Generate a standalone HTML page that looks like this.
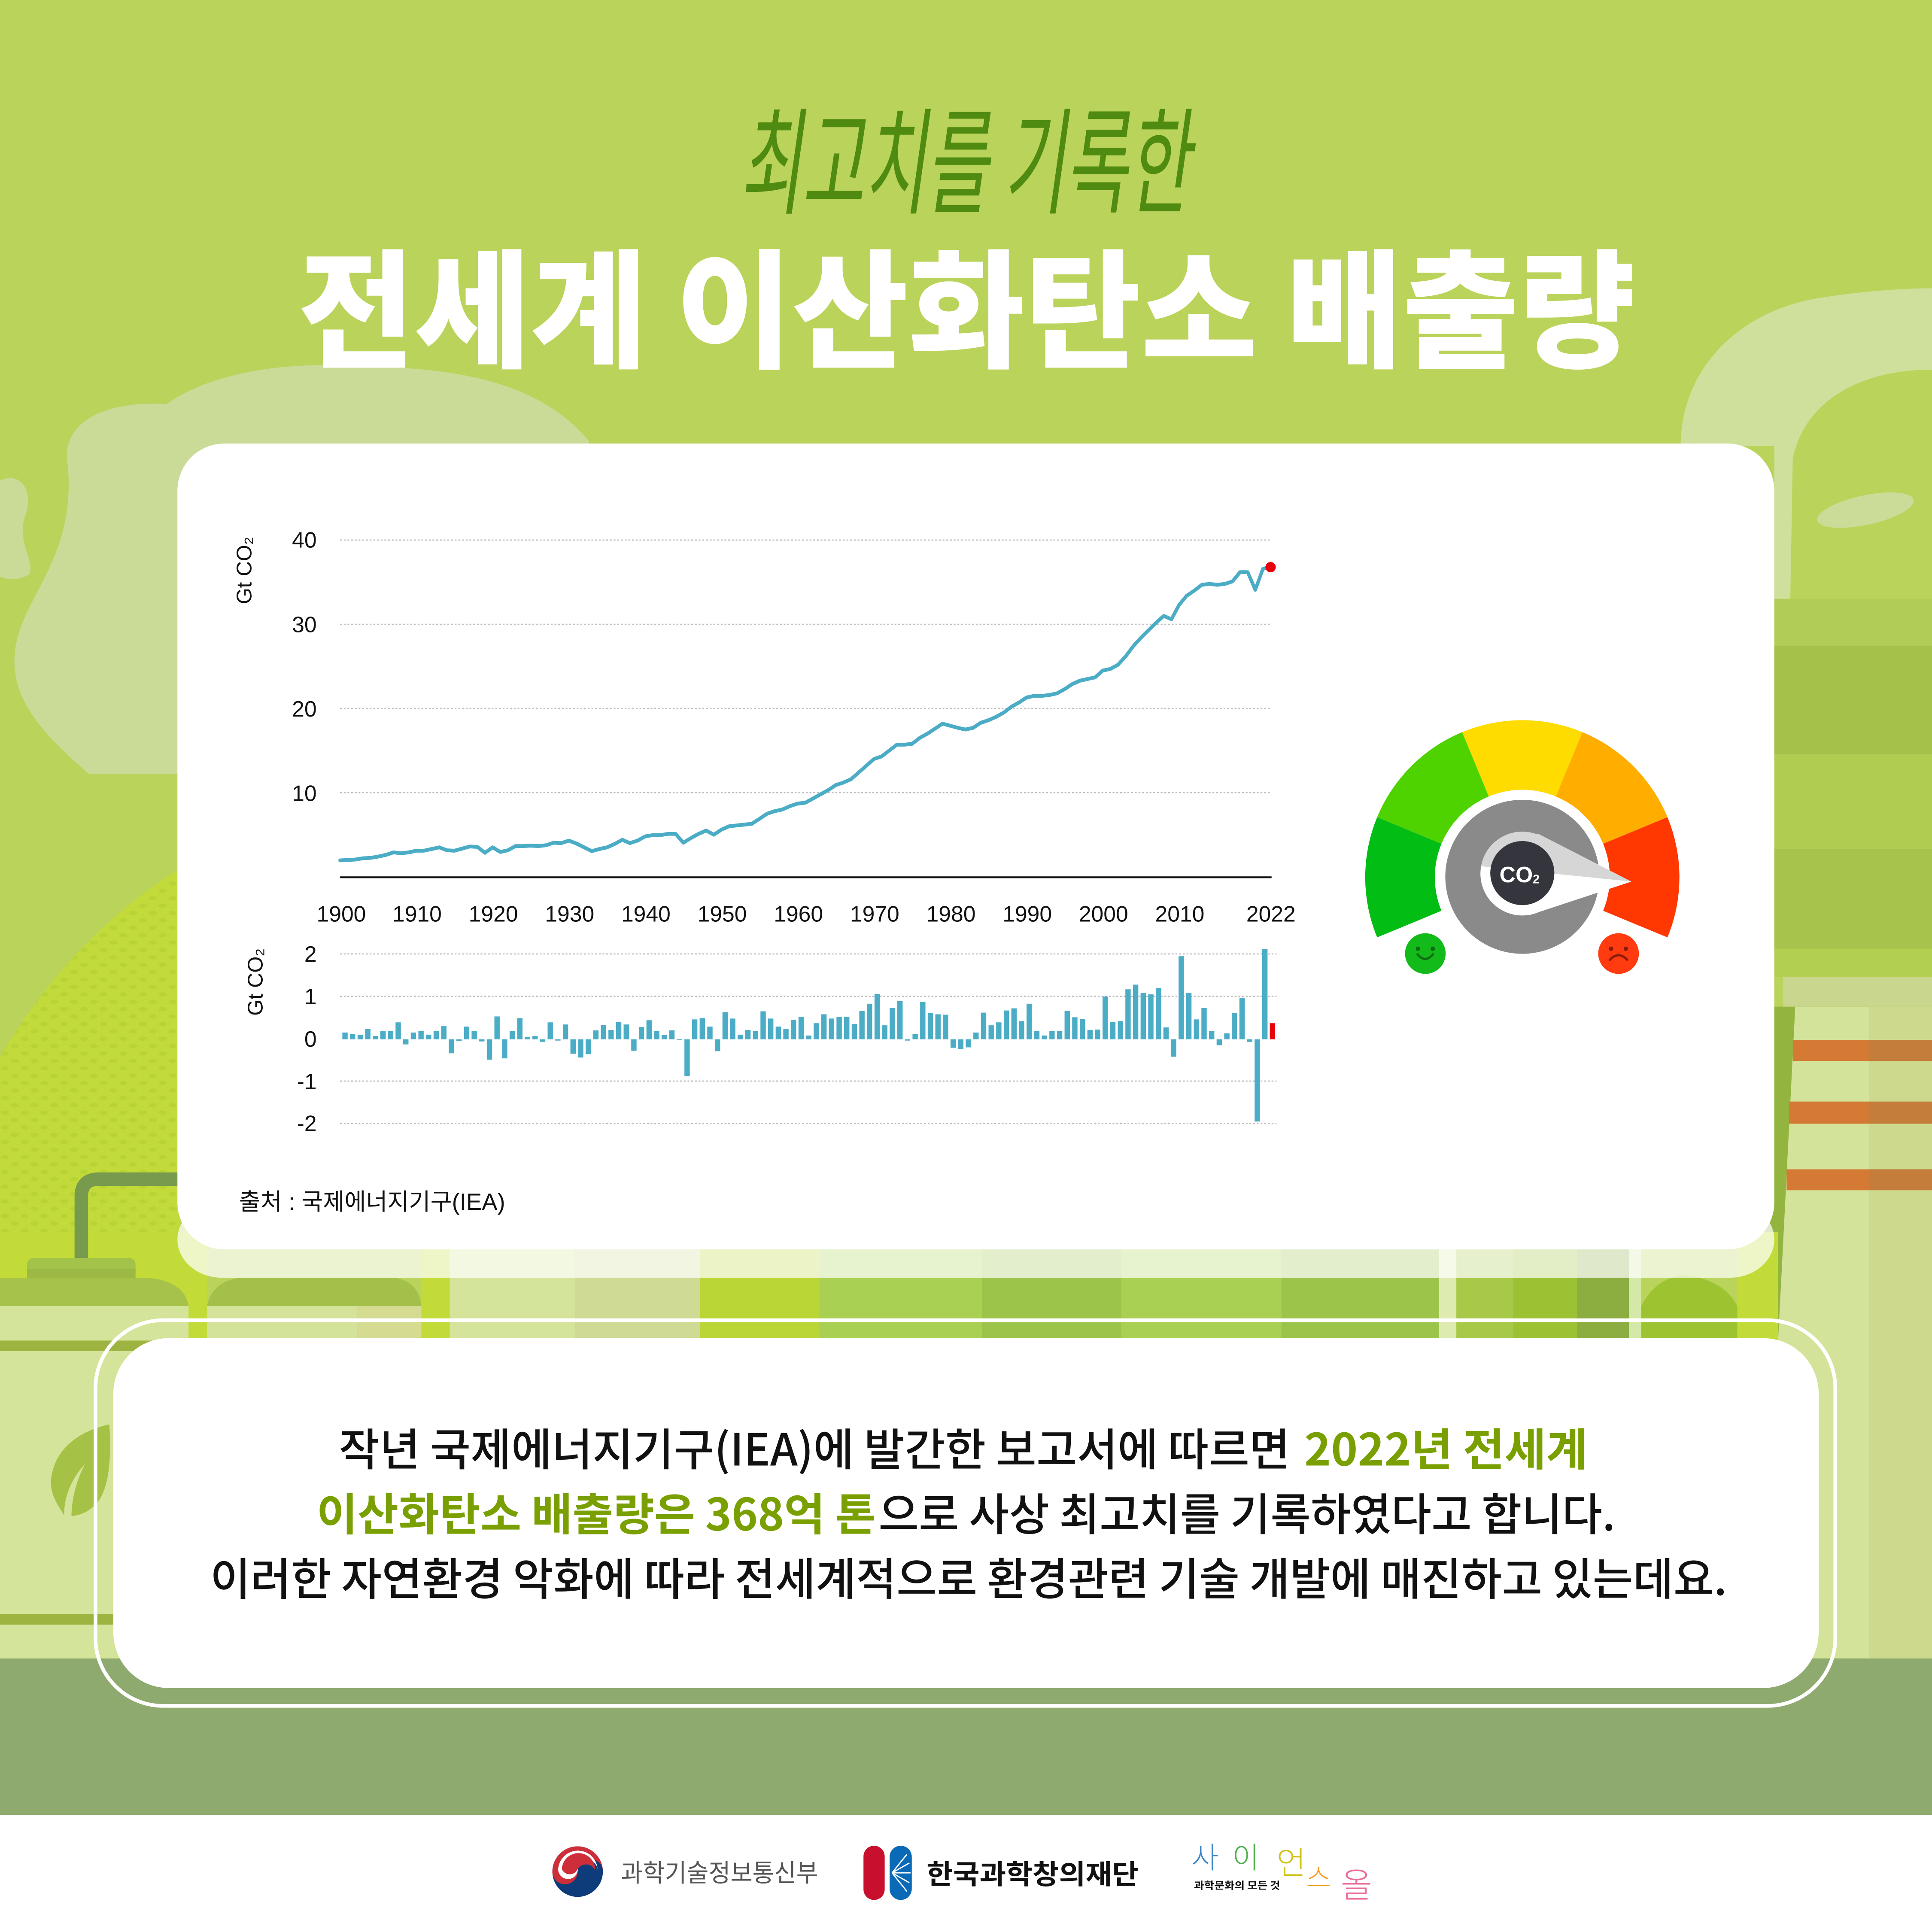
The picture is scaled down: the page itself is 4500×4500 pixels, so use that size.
<!DOCTYPE html>
<html><head><meta charset="utf-8"><style>html,body{margin:0;padding:0;background:#fff}svg{display:block}</style></head>
<body>
<svg xmlns="http://www.w3.org/2000/svg" width="4500" height="4500" viewBox="0 0 1568 1568" font-family="'Liberation Sans','Noto Sans CJK KR',sans-serif">
<defs>
<pattern id="dots" width="16" height="12" patternUnits="userSpaceOnUse"><ellipse cx="4" cy="3" rx="3.2" ry="1.7" fill="#B7D336"/><ellipse cx="12" cy="9" rx="3.2" ry="1.7" fill="#B7D336"/></pattern>
<clipPath id="needleTop"><polygon points="1190,600 1340,600 1340,717.1 1190,701.8"/></clipPath>
</defs>
<rect width="1568" height="1568" fill="#BAD35B"/>
<path d="M55,378 C48,340 90,325 135,328 C175,300 240,292 310,298 C390,300 445,318 478,358 L478,628 L72,628 C40,600 8,570 12,530 C16,485 62,455 55,378 Z" fill="#C9DB97"/>
<path d="M0,390 C18,382 28,400 20,420 C14,440 28,455 24,466 C14,472 5,470 0,468 Z" fill="#C9DB97"/>
<path d="M0,858 C40,790 90,740 146,705 L146,1040 L0,1040 Z" fill="#C2DB3A"/>
<path d="M0,858 C40,790 90,740 146,705 L146,1040 L0,1040 Z" fill="url(#dots)"/>
<path d="M1364,362 C1364,300 1410,255 1470,243 C1510,236 1545,234 1568,234 L1568,300 C1510,300 1465,325 1455,372 L1453,486 L1440,486 L1440,362 Z" fill="#CEE09B"/>
<ellipse cx="1514" cy="414" rx="40" ry="12" transform="rotate(-12 1514 414)" fill="#CADC98"/>
<rect x="1440" y="486" width="128" height="38" fill="#B0CD58"/>
<rect x="1440" y="524" width="128" height="88" fill="#A4C14A"/>
<rect x="1440" y="612" width="128" height="77" fill="#B0CD52"/>
<rect x="1440" y="689" width="128" height="81" fill="#A6C44C"/>
<rect x="1440" y="770" width="128" height="23" fill="#B2CF50"/>
<rect x="1447" y="793" width="121" height="24" fill="#C8D68E"/>
<rect x="1430" y="817" width="138" height="530" fill="#93B540"/>
<g>
<rect x="0" y="1000" width="168" height="90" fill="#C2DB38"/>
<rect x="342" y="1000" width="23" height="90" fill="#C2DB38"/>
<rect x="365" y="1000" width="102" height="90" fill="#D4E49A"/>
<rect x="467" y="1000" width="101" height="90" fill="#CFDB94"/>
<rect x="568" y="1000" width="97" height="90" fill="#BAD636"/>
<rect x="665" y="1000" width="132" height="90" fill="#A9D052"/>
<rect x="797" y="1000" width="113" height="90" fill="#9CC44A"/>
<rect x="910" y="1000" width="130" height="90" fill="#A9D052"/>
<rect x="1040" y="1000" width="128" height="90" fill="#9CC44A"/>
<rect x="1168" y="1000" width="14" height="90" fill="#DDEBB0"/>
<rect x="1182" y="1000" width="46" height="90" fill="#A8C848"/>
<rect x="1228" y="1000" width="52" height="90" fill="#9CC234"/>
<rect x="1280" y="1000" width="42" height="90" fill="#8CAD40"/>
<rect x="1322" y="1000" width="10" height="90" fill="#D4E8A8"/>
<path d="M1332,1090 L1332,1060 Q1345,1035 1370,1035 Q1400,1040 1410,1060 L1410,1090 Z" fill="#9DC430"/>
<rect x="1410" y="1000" width="33" height="90" fill="#C2DB38"/>
</g>
<path d="M146,957 L80,957 Q66,957 66,971 L66,1022" fill="none" stroke="#789A4C" stroke-width="11"/>
<rect x="22" y="1021" width="88" height="17" rx="5" fill="#A3C24A"/>
<rect x="22" y="1030" width="88" height="8" fill="#9BB944"/>
<path d="M0,1037 L120,1037 Q150,1040 153,1060 L0,1060 Z" fill="#A6C24A"/>
<rect x="0" y="1060" width="153" height="286" fill="#D4E49A"/>
<rect x="0" y="1088" width="153" height="8.5" fill="#9DB440"/>
<rect x="0" y="1310" width="92" height="8.5" fill="#9DB440"/>
<path d="M168,1060 Q172,1040 195,1037 L320,1037 Q340,1040 342,1060 Z" fill="#A3C04A"/>
<rect x="168" y="1060" width="122" height="30" fill="#D4E39A"/>
<rect x="290" y="1060" width="52" height="30" fill="#D5DB90"/>
<path d="M88.7,1156 C70,1160 45,1172 41.5,1200 C40,1215 50,1225 52,1230 C60,1232 75,1228 82,1215 C90,1200 90,1175 88.7,1156 Z" fill="#A6C246"/>
<path d="M52,1230 C52,1212 60,1198 69,1188 C63,1200 58,1214 58,1232 Z" fill="#D4E49A"/>
<polygon points="1457,817 1568,817 1568,1346 1443,1346 1443,1090" fill="#D4E39A"/>
<rect x="1517" y="817" width="51" height="529" fill="#CDDA8E"/>
<rect x="1455" y="844" width="62" height="17" fill="#D47A34"/><rect x="1517" y="844" width="51" height="17" fill="#C47D3A"/>
<rect x="1452" y="894" width="65" height="18" fill="#D47A34"/><rect x="1517" y="894" width="51" height="18" fill="#C47D3A"/>
<rect x="1450" y="949" width="67" height="17" fill="#D47A34"/><rect x="1517" y="949" width="51" height="17" fill="#C47D3A"/>
<rect x="0" y="1346" width="1568" height="127" fill="#8EAA6E"/>
<rect x="144" y="975" width="1296" height="62" rx="36" fill="#fff" opacity="0.72"/>
<rect x="144" y="360" width="1296" height="654" rx="38" fill="#fff"/>
<rect x="77.5" y="1071.5" width="1412" height="313" rx="55" fill="none" stroke="#fff" stroke-width="3"/>
<rect x="92" y="1086" width="1384" height="284" rx="45" fill="#fff"/>
<rect x="0" y="1473" width="1568" height="95" fill="#fff"/>

<g transform="translate(783,166) skewX(-8)">
<text x="0" y="0" text-anchor="middle" font-size="94" font-weight="400" fill="#4F8B10" textLength="365" lengthAdjust="spacingAndGlyphs" font-family="'Noto Sans CJK KR',sans-serif">최고치를 기록한</text>
</g>
<text x="242" y="290" font-size="104" font-weight="900" fill="#fff" textLength="1085" lengthAdjust="spacingAndGlyphs" font-family="'Noto Sans CJK KR',sans-serif">전세계 이산화탄소 배출량</text>

<g stroke="#BDBDBD" stroke-width="1" stroke-dasharray="1.5 1.5">
<line x1="276" y1="438.3" x2="1031" y2="438.3"/>
<line x1="276" y1="506.7" x2="1031" y2="506.7"/>
<line x1="276" y1="575" x2="1031" y2="575"/>
<line x1="276" y1="643.3" x2="1031" y2="643.3"/>
<line x1="276" y1="774.2" x2="1036" y2="774.2"/>
<line x1="276" y1="808.6" x2="1036" y2="808.6"/>
<line x1="276" y1="877.4" x2="1036" y2="877.4"/>
<line x1="276" y1="911.8" x2="1036" y2="911.8"/>
</g>
<line x1="276" y1="712" x2="1032" y2="712" stroke="#111" stroke-width="1.5"/>
<g font-size="18" fill="#111" text-anchor="end">
<text x="257" y="444.5">40</text><text x="257" y="513">30</text><text x="257" y="581.5">20</text><text x="257" y="650">10</text>
<text x="257" y="780.5">2</text><text x="257" y="815">1</text><text x="257" y="849.5">0</text><text x="257" y="884">-1</text><text x="257" y="918">-2</text>
</g>
<g font-size="18" fill="#111" text-anchor="middle">
<text x="277" y="748">1900</text><text x="338.5" y="748">1910</text><text x="400.4" y="748">1920</text><text x="462.3" y="748">1930</text><text x="524.2" y="748">1940</text><text x="586.1" y="748">1950</text><text x="648" y="748">1960</text><text x="709.9" y="748">1970</text><text x="771.8" y="748">1980</text><text x="833.7" y="748">1990</text><text x="895.6" y="748">2000</text><text x="957.5" y="748">2010</text><text x="1031.5" y="748">2022</text>
</g>
<text transform="translate(204,463) rotate(-90)" text-anchor="middle" font-size="17" fill="#111">Gt CO₂</text>
<text transform="translate(213,797) rotate(-90)" text-anchor="middle" font-size="17" fill="#111">Gt CO₂</text>

<polyline transform="translate(276,711.6) scale(6.19,-6.83)" fill="none" stroke="#4BACC6" stroke-width="0.45" stroke-linejoin="round" stroke-linecap="round" points="0,1.95 1,2.0 2,2.05 3,2.2 4,2.25 5,2.4 6,2.6 7,2.9 8,2.8 9,2.9 10,3.1 11,3.1 12,3.3 13,3.5 14,3.15 15,3.1 16,3.35 17,3.6 18,3.55 19,2.85 20,3.5 21,2.95 22,3.15 23,3.65 24,3.65 25,3.7 26,3.65 27,3.75 28,4.05 29,4.0 30,4.3 31,3.95 32,3.5 33,3.05 34,3.3 35,3.5 36,3.9 37,4.4 38,4.0 39,4.3 40,4.8 41,4.95 42,4.95 43,5.1 44,5.1 45,4.05 46,4.6 47,5.1 48,5.5 49,5.0 50,5.6 51,6.0 52,6.1 53,6.2 54,6.3 55,6.9 56,7.5 57,7.8 58,8.0 59,8.4 60,8.7 61,8.8 62,9.3 63,9.8 64,10.3 65,10.9 66,11.2 67,11.6 68,12.4 69,13.2 70,14.0 71,14.3 72,15.0 73,15.7 74,15.7 75,15.8 76,16.5 77,17.0 78,17.6 79,18.2 80,17.95 81,17.7 82,17.5 83,17.7 84,18.3 85,18.6 86,19.0 87,19.5 88,20.2 89,20.7 90,21.3 91,21.5 92,21.5 93,21.6 94,21.8 95,22.3 96,22.9 97,23.3 98,23.5 99,23.7 100,24.5 101,24.7 102,25.2 103,26.2 104,27.4 105,28.4 106,29.3 107,30.2 108,31.0 109,30.6 110,32.3 111,33.4 112,34.0 113,34.7 114,34.8 115,34.7 116,34.8 117,35.1 118,36.2 119,36.2 120,34.1 121,36.6 122,36.8"/>
<circle cx="1031.2" cy="460.3" r="4.2" fill="#E8000B"/>

<g transform="translate(280,843.5) scale(6.17,-34.4)" fill="#4BACC6">
<rect x="-0.35" y="0" width="0.7" height="0.16"/><rect x="0.65" y="0" width="0.7" height="0.12"/><rect x="1.65" y="0" width="0.7" height="0.10"/><rect x="2.65" y="0" width="0.7" height="0.24"/><rect x="3.65" y="0" width="0.7" height="0.08"/><rect x="4.65" y="0" width="0.7" height="0.20"/><rect x="5.65" y="0" width="0.7" height="0.19"/><rect x="6.65" y="0" width="0.7" height="0.40"/><rect x="7.65" y="-0.12" width="0.7" height="0.12"/><rect x="8.65" y="0" width="0.7" height="0.16"/>
<rect x="9.65" y="0" width="0.7" height="0.19"/><rect x="10.65" y="0" width="0.7" height="0.11"/><rect x="11.65" y="0" width="0.7" height="0.20"/><rect x="12.65" y="0" width="0.7" height="0.31"/><rect x="13.65" y="-0.33" width="0.7" height="0.33"/><rect x="14.65" y="-0.04" width="0.7" height="0.04"/><rect x="15.65" y="0" width="0.7" height="0.30"/><rect x="16.65" y="0" width="0.7" height="0.20"/><rect x="17.65" y="-0.05" width="0.7" height="0.05"/><rect x="18.65" y="-0.48" width="0.7" height="0.48"/>
<rect x="19.65" y="0" width="0.7" height="0.54"/><rect x="20.65" y="-0.45" width="0.7" height="0.45"/><rect x="21.65" y="0" width="0.7" height="0.20"/><rect x="22.65" y="0" width="0.7" height="0.50"/><rect x="23.65" y="0" width="0.7" height="0.06"/><rect x="24.65" y="0" width="0.7" height="0.08"/><rect x="25.65" y="-0.06" width="0.7" height="0.06"/><rect x="26.65" y="0" width="0.7" height="0.40"/><rect x="27.65" y="-0.03" width="0.7" height="0.03"/><rect x="28.65" y="0" width="0.7" height="0.35"/>
<rect x="29.65" y="-0.34" width="0.7" height="0.34"/><rect x="30.65" y="-0.43" width="0.7" height="0.43"/><rect x="31.65" y="-0.35" width="0.7" height="0.35"/><rect x="32.65" y="0" width="0.7" height="0.21"/><rect x="33.65" y="0" width="0.7" height="0.34"/><rect x="34.65" y="0" width="0.7" height="0.22"/><rect x="35.65" y="0" width="0.7" height="0.41"/><rect x="36.65" y="0" width="0.7" height="0.35"/><rect x="37.65" y="-0.27" width="0.7" height="0.27"/><rect x="38.65" y="0" width="0.7" height="0.29"/>
<rect x="39.65" y="0" width="0.7" height="0.45"/><rect x="40.65" y="0" width="0.7" height="0.19"/><rect x="41.65" y="0" width="0.7" height="0.10"/><rect x="42.65" y="0" width="0.7" height="0.21"/><rect x="43.65" y="-0.02" width="0.7" height="0.02"/><rect x="44.65" y="-0.87" width="0.7" height="0.87"/><rect x="45.65" y="0" width="0.7" height="0.47"/><rect x="46.65" y="0" width="0.7" height="0.50"/><rect x="47.65" y="0" width="0.7" height="0.30"/><rect x="48.65" y="-0.28" width="0.7" height="0.28"/>
<rect x="49.65" y="0" width="0.7" height="0.64"/><rect x="50.65" y="0" width="0.7" height="0.49"/><rect x="51.65" y="0" width="0.7" height="0.11"/><rect x="52.65" y="0" width="0.7" height="0.22"/><rect x="53.65" y="0" width="0.7" height="0.19"/><rect x="54.65" y="0" width="0.7" height="0.66"/><rect x="55.65" y="0" width="0.7" height="0.49"/><rect x="56.65" y="0" width="0.7" height="0.30"/><rect x="57.65" y="0" width="0.7" height="0.25"/><rect x="58.65" y="0" width="0.7" height="0.46"/>
<rect x="59.65" y="0" width="0.7" height="0.53"/><rect x="60.65" y="0" width="0.7" height="0.09"/><rect x="61.65" y="0" width="0.7" height="0.38"/><rect x="62.65" y="0" width="0.7" height="0.59"/><rect x="63.65" y="0" width="0.7" height="0.49"/><rect x="64.65" y="0" width="0.7" height="0.53"/><rect x="65.65" y="0" width="0.7" height="0.53"/><rect x="66.65" y="0" width="0.7" height="0.36"/><rect x="67.65" y="0" width="0.7" height="0.67"/><rect x="68.65" y="0" width="0.7" height="0.84"/>
<rect x="69.65" y="0" width="0.7" height="1.07"/><rect x="70.65" y="0" width="0.7" height="0.33"/><rect x="71.65" y="0" width="0.7" height="0.74"/><rect x="72.65" y="0" width="0.7" height="0.90"/><rect x="73.65" y="-0.03" width="0.7" height="0.03"/><rect x="74.65" y="0" width="0.7" height="0.12"/><rect x="75.65" y="0" width="0.7" height="0.88"/><rect x="76.65" y="0" width="0.7" height="0.62"/><rect x="77.65" y="0" width="0.7" height="0.59"/><rect x="78.65" y="0" width="0.7" height="0.58"/>
<rect x="79.65" y="-0.20" width="0.7" height="0.20"/><rect x="80.65" y="-0.23" width="0.7" height="0.23"/><rect x="81.65" y="-0.19" width="0.7" height="0.19"/><rect x="82.65" y="0" width="0.7" height="0.16"/><rect x="83.65" y="0" width="0.7" height="0.63"/><rect x="84.65" y="0" width="0.7" height="0.33"/><rect x="85.65" y="0" width="0.7" height="0.40"/><rect x="86.65" y="0" width="0.7" height="0.68"/><rect x="87.65" y="0" width="0.7" height="0.73"/><rect x="88.65" y="0" width="0.7" height="0.43"/>
<rect x="89.65" y="0" width="0.7" height="0.84"/><rect x="90.65" y="0" width="0.7" height="0.19"/><rect x="91.65" y="0" width="0.7" height="0.09"/><rect x="92.65" y="0" width="0.7" height="0.19"/><rect x="93.65" y="0" width="0.7" height="0.19"/><rect x="94.65" y="0" width="0.7" height="0.67"/><rect x="95.65" y="0" width="0.7" height="0.52"/><rect x="96.65" y="0" width="0.7" height="0.48"/><rect x="97.65" y="0" width="0.7" height="0.22"/><rect x="98.65" y="0" width="0.7" height="0.23"/>
<rect x="99.65" y="0" width="0.7" height="1.01"/><rect x="100.65" y="0" width="0.7" height="0.41"/><rect x="101.65" y="0" width="0.7" height="0.43"/><rect x="102.65" y="0" width="0.7" height="1.18"/><rect x="103.65" y="0" width="0.7" height="1.29"/><rect x="104.65" y="0" width="0.7" height="1.09"/><rect x="105.65" y="0" width="0.7" height="1.06"/><rect x="106.65" y="0" width="0.7" height="1.21"/><rect x="107.65" y="0" width="0.7" height="0.28"/><rect x="108.65" y="-0.41" width="0.7" height="0.41"/>
<rect x="109.65" y="0" width="0.7" height="1.96"/><rect x="110.65" y="0" width="0.7" height="1.09"/><rect x="111.65" y="0" width="0.7" height="0.47"/><rect x="112.65" y="0" width="0.7" height="0.74"/><rect x="113.65" y="0" width="0.7" height="0.19"/><rect x="114.65" y="-0.14" width="0.7" height="0.14"/><rect x="115.65" y="0" width="0.7" height="0.14"/><rect x="116.65" y="0" width="0.7" height="0.62"/><rect x="117.65" y="0" width="0.7" height="0.98"/><rect x="118.65" y="-0.06" width="0.7" height="0.06"/>
<rect x="119.65" y="-1.94" width="0.7" height="1.94"/><rect x="120.65" y="0" width="0.7" height="2.13"/>
<rect x="121.65" y="0" width="0.7" height="0.38" fill="#E8000B"/>
</g>
<text x="194" y="982" font-size="19" fill="#111" textLength="216" lengthAdjust="spacingAndGlyphs">출처 : 국제에너지기구(IEA)</text>

<path d="M1117.7,760.8 A127.5,127.5 0 0 1 1117.7,663.2 L1169.9,684.8 A71,71 0 0 0 1169.9,739.2 Z" fill="#02BE14"/>
<path d="M1117.7,663.2 A127.5,127.5 0 0 1 1186.7,594.2 L1208.3,646.4 A71,71 0 0 0 1169.9,684.8 Z" fill="#4FD300"/>
<path d="M1186.7,594.2 A127.5,127.5 0 0 1 1284.3,594.2 L1262.7,646.4 A71,71 0 0 0 1208.3,646.4 Z" fill="#FFDC00"/>
<path d="M1284.3,594.2 A127.5,127.5 0 0 1 1353.3,663.2 L1301.1,684.8 A71,71 0 0 0 1262.7,646.4 Z" fill="#FFAE00"/>
<path d="M1353.3,663.2 A127.5,127.5 0 0 1 1353.3,760.8 L1301.1,739.2 A71,71 0 0 0 1301.1,684.8 Z" fill="#FF3700"/>
<circle cx="1235.5" cy="711.6" r="62.5" fill="#8A8A8A"/>
<g fill="#fff">
<circle cx="1235.5" cy="709" r="34"/>
<polygon points="1248,676.5 1324,715.5 1242,742.5 1225,720"/>
</g>
<g fill="#D6D6D6" clip-path="url(#needleTop)">
<circle cx="1235.5" cy="709" r="34"/>
<polygon points="1248,676.5 1324,715.5 1242,742.5 1225,720"/>
</g>
<circle cx="1235.5" cy="708.6" r="26" fill="#35353D"/>
<text x="1217" y="716" font-size="18" font-weight="700" fill="#fff">CO<tspan font-size="10" dy="1">2</tspan></text>
<circle cx="1156.8" cy="773.9" r="16.5" fill="#12BB1A"/>
<circle cx="1150.8" cy="770" r="1.8" fill="#0F6B14"/><circle cx="1162.8" cy="770" r="1.8" fill="#0F6B14"/>
<path d="M1150.5,774.5 Q1156.8,782 1163,774.5" fill="none" stroke="#0F6B14" stroke-width="1.8" stroke-linecap="round"/>
<circle cx="1313.6" cy="773.9" r="16.5" fill="#FF3B0F"/>
<circle cx="1307.6" cy="770" r="1.8" fill="#8B1A0A"/><circle cx="1319.5" cy="770" r="1.8" fill="#8B1A0A"/>
<path d="M1306.5,779 Q1313.6,771.5 1320.7,779" fill="none" stroke="#8B1A0A" stroke-width="1.8" stroke-linecap="round"/>

<g font-family="'Noto Sans CJK KR',sans-serif" font-size="36">
<text x="275" y="1189.5" font-weight="500" fill="#111" textLength="772" lengthAdjust="spacingAndGlyphs">작년 국제에너지기구(IEA)에 발간한 보고서에 따르면</text>
<text x="1058.6" y="1189.5" font-weight="700" fill="#79A000" textLength="230" lengthAdjust="spacingAndGlyphs">2022년 전세계</text>
<text x="257" y="1242" font-weight="700" fill="#79A000" textLength="454" lengthAdjust="spacingAndGlyphs">이산화탄소 배출량은 368억 톤</text>
<text x="713" y="1242" font-weight="500" fill="#111" textLength="598" lengthAdjust="spacingAndGlyphs">으로 사상 최고치를 기록하였다고 합니다.</text>
<text x="170.6" y="1294.5" font-weight="500" fill="#111" textLength="1231" lengthAdjust="spacingAndGlyphs">이러한 자연환경 악화에 따라 전세계적으로 환경관련 기술 개발에 매진하고 있는데요.</text>
</g>

<circle cx="468.8" cy="1519" r="20.5" fill="#0E3C7A"/>
<path d="M448.3,1519 A20.5,20.5 0 0 1 489.3,1519 A10.25,10.25 0 0 0 468.8,1519 A10.25,10.25 0 0 1 448.3,1519 Z" fill="#CD2E3A"/>
<path d="M453,1517 A16,16 0 0 1 485,1519 A8,8 0 0 0 469,1517 A8,8 0 0 1 453,1517 Z" fill="#fff"/>
<path d="M456,1517 A13,13 0 0 1 483,1518 A8,8 0 0 0 468.8,1517 A7,7 0 0 1 456,1517 Z" fill="#CD2E3A"/>
<text x="504" y="1527" font-size="20" fill="#555" textLength="160" lengthAdjust="spacingAndGlyphs" font-family="'Noto Sans CJK KR',sans-serif">과학기술정보통신부</text>
<rect x="700.8" y="1498" width="17.2" height="44" rx="8.6" fill="#C8102E"/>
<rect x="722" y="1498" width="18" height="44" rx="9" fill="#0A6AB8"/>
<g stroke="#fff" stroke-width="1">
<line x1="724" y1="1520" x2="736" y2="1505"/><line x1="724" y1="1520" x2="738" y2="1512"/><line x1="724" y1="1520" x2="739" y2="1520"/><line x1="724" y1="1520" x2="738" y2="1528"/><line x1="724" y1="1520" x2="736" y2="1535"/>
</g>
<text x="752" y="1529" font-size="22" font-weight="700" fill="#111" textLength="172" lengthAdjust="spacingAndGlyphs" font-family="'Noto Sans CJK KR',sans-serif">한국과학창의재단</text>
<g font-family="'Noto Sans CJK KR',sans-serif" font-weight="300">
<text x="967" y="1516" font-size="24" fill="#3A86C8">사</text>
<text x="1000" y="1516" font-size="24" fill="#4DAF4A">이</text>
<text x="1036" y="1521" font-size="26" fill="#D0C21A">언</text>
<text x="1060" y="1532" font-size="22" fill="#F39A1E">스</text>
<text x="1088" y="1540" font-size="28" fill="#E96D9B">올</text>
<text x="969" y="1533" font-size="8" font-weight="700" fill="#111" textLength="70" lengthAdjust="spacingAndGlyphs">과학문화의 모든 것</text>
</g>
</svg>
</body></html>
